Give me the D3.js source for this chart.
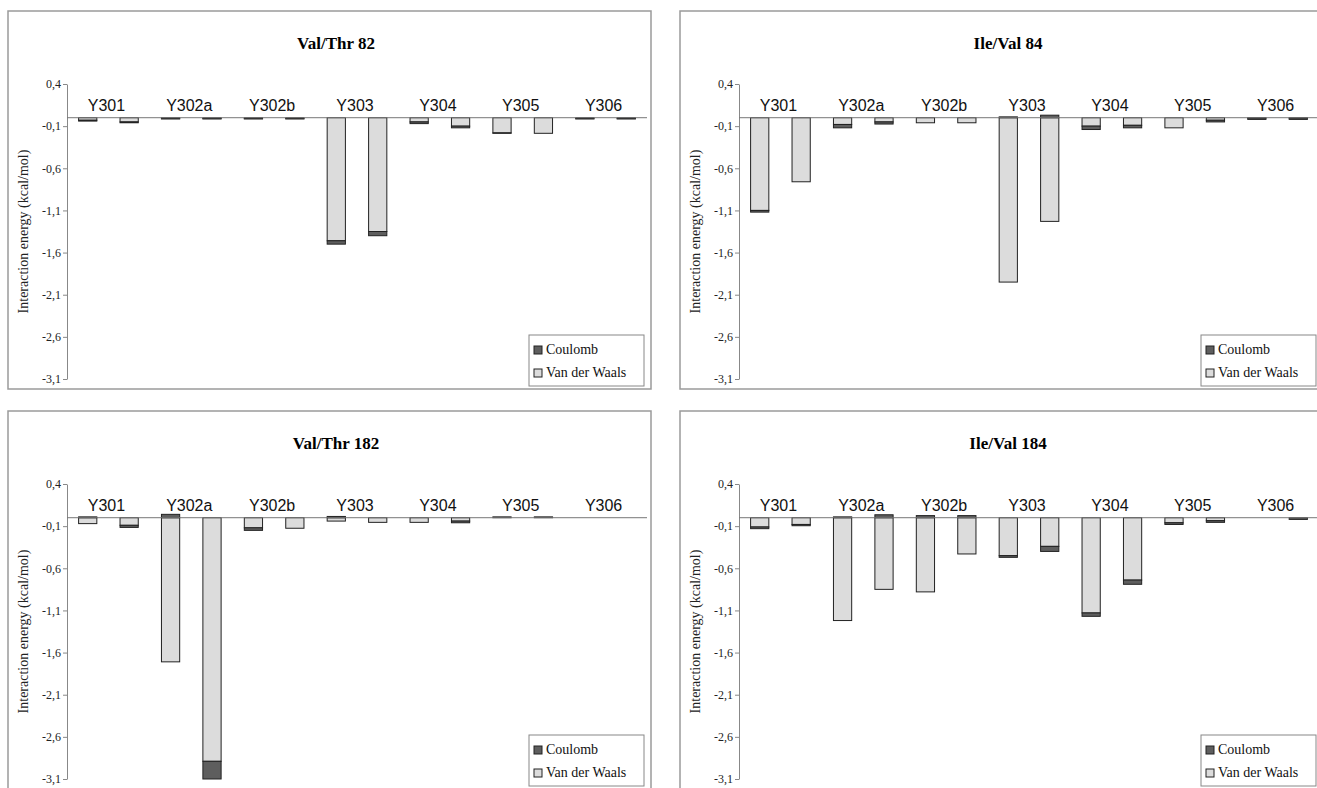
<!DOCTYPE html>
<html>
<head>
<meta charset="utf-8">
<script src="https://cdn.jsdelivr.net/npm/d3@7/dist/d3.min.js"></script>
<style>
  body { margin: 0; background: #fff; }
  svg { display: block; }
</style>
</head>
<body>
<script>
// Data
const categories = ["Y301", "Y302a", "Y302b", "Y303", "Y304", "Y305", "Y306"];
const seriesNames = ["Coulomb", "Van der Waals"];
const tickValues = [0.4, -0.1, -0.6, -1.1, -1.6, -2.1, -2.6, -3.1];
const panelTitles = ["Val/Thr 82", "Ile/Val 84", "Val/Thr 182", "Ile/Val 184"];

// two bars per category, Van der Waals and Coulomb parts (kcal/mol)
const vdw82  = [-0.03, -0.05, -0.01, -0.01, -0.01, -0.01, -1.46, -1.35, -0.05, -0.10, -0.18, -0.185, -0.01, -0.01];
const coul82 = [-0.01, -0.01, -0.005, -0.005, -0.005, -0.005, -0.04, -0.05, -0.02, -0.02, -0.005, 0, -0.005, -0.005];
const vdw84  = [-1.10, -0.76, -0.08, -0.05, -0.06, -0.06, -1.95, -1.23, -0.10, -0.09, -0.12, -0.03, -0.005, -0.005];
const coul84 = [-0.02, 0, -0.04, -0.025, 0, 0, 0.01, 0.03, -0.04, -0.03, 0, -0.02, -0.015, -0.015];
const vdw182  = [-0.07, -0.09, -1.71, -2.89, -0.12, -0.125, -0.04, -0.055, -0.055, -0.04, 0, 0, 0, 0];
const coul182 = [0.01, -0.025, 0.04, -0.21, -0.03, 0, 0.015, 0, 0, -0.02, 0.01, 0.01, 0, 0];
const vdw184  = [-0.11, -0.08, -1.22, -0.85, -0.88, -0.43, -0.45, -0.34, -1.13, -0.74, -0.06, -0.035, 0, 0];
const coul184 = [-0.02, -0.015, 0.01, 0.035, 0.025, 0.025, -0.02, -0.06, -0.04, -0.05, -0.02, -0.02, 0, -0.02];

const panelVdw = [vdw82, vdw84, vdw182, vdw184];
const panelCoul = [coul82, coul84, coul182, coul184];

// Layout
const W = 1317, H = 788;
const offsets = [[0, 0], [672, 0], [0, 400], [672, 400]];
const colors = { coul: "#5e5e5e", vdw: "#dcdcdc" };
const serif = "'Liberation Serif', 'Times New Roman', serif";
const sans = "'Liberation Sans', Arial, sans-serif";

const svg = d3.select("body").append("svg")
  .attr("width", W)
  .attr("height", H);

const barIds = categories.flatMap(c => [c + "-a", c + "-b"]);

function fmt(d) {
  return d3.format(".1f")(d).replace("−", "-").replace(".", ",");
}

function drawPanel(idx) {
  const [ox, oy] = offsets[idx];
  const g = svg.append("g").attr("transform", `translate(${ox},${oy})`);

  // panel frame
  g.append("rect")
    .attr("x", 8).attr("y", 11)
    .attr("width", 643).attr("height", 378)
    .attr("fill", "#fff")
    .attr("stroke", "#9a9a9a")
    .attr("stroke-width", 1.5);

  g.append("text")
    .attr("x", 336).attr("y", 49)
    .attr("text-anchor", "middle")
    .attr("font-family", serif)
    .attr("font-weight", "bold")
    .attr("font-size", 17)
    .text(panelTitles[idx]);

  const x = d3.scaleBand()
    .domain(barIds)
    .range([67, 647])
    .paddingInner(0.56)
    .paddingOuter(0.28);

  const y = d3.scaleLinear()
    .domain([0.4, -3.1])
    .range([84, 379]);

  // y axis
  const yAxis = g.append("g")
    .attr("transform", "translate(67,0)")
    .call(d3.axisLeft(y).tickValues(tickValues).tickSize(4).tickSizeOuter(0).tickFormat(fmt));
  yAxis.select(".domain").attr("stroke", "#888");
  yAxis.selectAll(".tick line").attr("stroke", "#888");
  yAxis.selectAll(".tick text")
    .attr("font-family", serif)
    .attr("font-size", 12)
    .attr("fill", "#222")
    .attr("x", -6);

  g.append("text")
    .attr("transform", `translate(25,${(84 + 379) / 2}) rotate(-90)`)
    .attr("text-anchor", "middle")
    .attr("dominant-baseline", "middle")
    .attr("font-family", serif)
    .attr("font-size", 14)
    .attr("fill", "#222")
    .text("Interaction energy (kcal/mol)");

  // stacked bars: Van der Waals first from zero, Coulomb after it
  const rows = barIds.map((id, i) => ({ id, vdw: panelVdw[idx][i], coul: panelCoul[idx][i] }));
  const stack = d3.stack().keys(["vdw", "coul"]).offset(d3.stackOffsetDiverging);
  const layers = stack(rows);

  g.selectAll("g.layer")
    .data(layers)
    .join("g")
    .attr("class", "layer")
    .attr("fill", d => colors[d.key])
    .selectAll("rect")
    .data(d => d)
    .join("rect")
    .attr("x", d => x(d.data.id))
    .attr("width", x.bandwidth())
    .attr("y", d => y(Math.max(d[0], d[1])))
    .attr("height", d => Math.abs(y(d[0]) - y(d[1])))
    .attr("stroke", "#222")
    .attr("stroke-width", 1);

  // zero line
  g.append("line")
    .attr("x1", 67).attr("x2", 647)
    .attr("y1", y(0)).attr("y2", y(0))
    .attr("stroke", "#777")
    .attr("stroke-width", 1);

  // category labels
  g.selectAll("text.cat")
    .data(categories)
    .join("text")
    .attr("class", "cat")
    .attr("x", c => (x(c + "-a") + x(c + "-b") + x.bandwidth()) / 2 - 2)
    .attr("y", y(0) - 7)
    .attr("text-anchor", "middle")
    .attr("font-family", sans)
    .attr("font-size", 16)
    .attr("fill", "#111")
    .text(c => c);

  // legend
  const lg = g.append("g").attr("transform", "translate(529,335)");
  lg.append("rect")
    .attr("width", 115).attr("height", 51)
    .attr("fill", "#fff")
    .attr("stroke", "#888");
  const items = lg.selectAll("g.item")
    .data(seriesNames)
    .join("g")
    .attr("class", "item")
    .attr("transform", (d, i) => `translate(5,${15 + i * 23})`);
  items.append("rect")
    .attr("x", 0).attr("y", -4)
    .attr("width", 8).attr("height", 8)
    .attr("fill", (d, i) => i === 0 ? colors.coul : colors.vdw)
    .attr("stroke", "#222");
  items.append("text")
    .attr("x", 12).attr("y", 1)
    .attr("dominant-baseline", "middle")
    .attr("font-family", serif)
    .attr("font-size", 14)
    .attr("fill", "#111")
    .text(d => d);
}

panelTitles.forEach((t, i) => drawPanel(i));
</script>
</body>
</html>
